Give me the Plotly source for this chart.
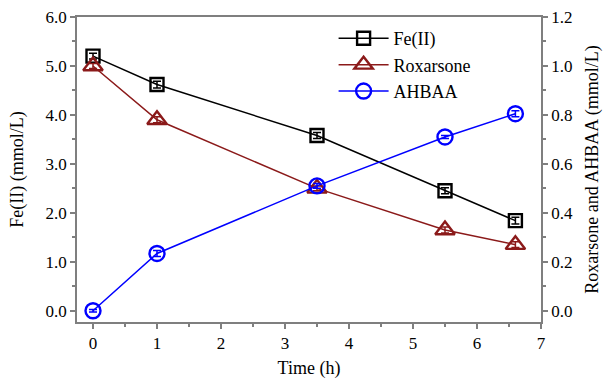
import plotly.graph_objects as go

time = [0, 1, 3.5, 5.5, 6.6]
fe2 = [5.2, 4.62, 3.58, 2.45, 1.84]
fe2_err = [0.06, 0.07, 0.06, 0.06, 0.07]
roxarsone = [1.0, 0.78, 0.50, 0.33, 0.27]
rox_err = [0.01, 0.012, 0.01, 0.012, 0.012]
ahbaa = [0.0, 0.234, 0.51, 0.71, 0.805]
ahbaa_err = [0.005, 0.012, 0.01, 0.006, 0.012]

FONT = "Liberation Serif"
AXC = "#7f7f7f"

fig = go.Figure()
fig.add_trace(go.Scatter(
    x=time, y=fe2, name="Fe(II)", mode="lines+markers",
    line=dict(color="black", width=1.5),
    marker=dict(symbol="square-open", size=13, color="black", line=dict(width=2.4)),
    error_y=dict(type="data", array=fe2_err, color="black", thickness=1.5, width=4),
))
fig.add_trace(go.Scatter(
    x=time, y=roxarsone, name="Roxarsone", mode="lines+markers", yaxis="y2",
    line=dict(color="#8b1a1a", width=1.5),
    marker=dict(symbol="triangle-up-open", size=17, color="#8b1a1a", line=dict(width=2.4)),
    error_y=dict(type="data", array=rox_err, color="#8b1a1a", thickness=1.5, width=4),
))
fig.add_trace(go.Scatter(
    x=time, y=ahbaa, name="AHBAA", mode="lines+markers", yaxis="y2",
    line=dict(color="#0000ff", width=1.5),
    marker=dict(symbol="circle-open", size=15, color="#0000ff", line=dict(width=2.4)),
    error_y=dict(type="data", array=ahbaa_err, color="#0000ff", thickness=1.5, width=4),
))

axis_common = dict(
    showline=True, linecolor=AXC, linewidth=1.5, ticks="outside", tickcolor=AXC,
    ticklen=5, tickwidth=1.5, showgrid=False, zeroline=False,
    tickfont=dict(family=FONT, size=17, color="black"),
)
minor_common = dict(ticks="outside", ticklen=3, tickcolor=AXC, tickwidth=1.5)

fig.update_layout(
    width=603, height=379,
    margin=dict(l=77, r=62, t=17, b=57, autoexpand=False),
    paper_bgcolor="white", plot_bgcolor="white",
    font=dict(family=FONT, color="black"),
    showlegend=True,
    legend=dict(x=0.553, y=0.99, xanchor="left", yanchor="top",
                bgcolor="rgba(0,0,0,0)", font=dict(family=FONT, size=18, color="black"),
                itemwidth=50),
    xaxis=dict(range=[-0.25, 7], dtick=1, mirror=True,
               minor=dict(dtick=0.5, **minor_common),
               title=dict(text="Time (h)", font=dict(family=FONT, size=18), standoff=12),
               **axis_common),
    yaxis=dict(range=[-0.23, 6.0], dtick=1, tickformat=".1f",
               minor=dict(dtick=0.5, **minor_common),
               title=dict(text="Fe(II) (mmol/L)", font=dict(family=FONT, size=18), standoff=17),
               **axis_common),
    yaxis2=dict(range=[-0.046, 1.2], dtick=0.2, tickformat=".1f", overlaying="y", side="right",
                minor=dict(dtick=0.1, **minor_common),
                title=dict(text="Roxarsone and AHBAA (mmol/L)", font=dict(family=FONT, size=18), standoff=17),
                **axis_common),
)

fig.write_html("out.html")
